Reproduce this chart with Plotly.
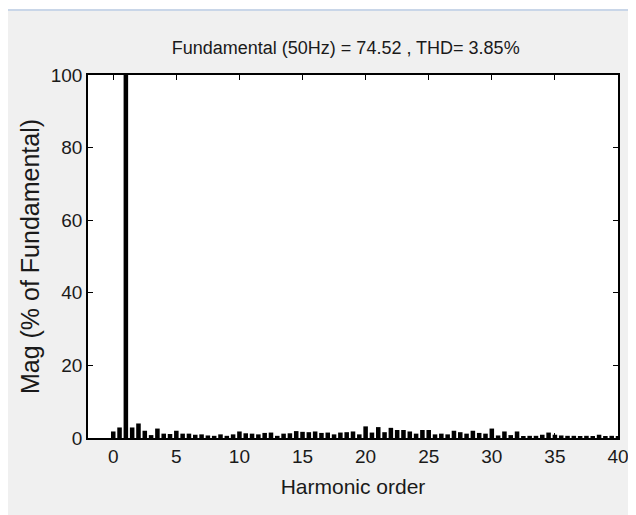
import plotly.graph_objects as go

harmonic_order = [0, 0.5, 1, 1.5, 2, 2.5, 3, 3.5, 4, 4.5, 5, 5.5, 6, 6.5, 7, 7.5, 8, 8.5, 9, 9.5,
                  10, 10.5, 11, 11.5, 12, 12.5, 13, 13.5, 14, 14.5, 15, 15.5, 16, 16.5, 17, 17.5, 18, 18.5, 19, 19.5,
                  20, 20.5, 21, 21.5, 22, 22.5, 23, 23.5, 24, 24.5, 25, 25.5, 26, 26.5, 27, 27.5, 28, 28.5, 29, 29.5,
                  30, 30.5, 31, 31.5, 32, 32.5, 33, 33.5, 34, 34.5, 35, 35.5, 36, 36.5, 37, 37.5, 38, 38.5, 39, 39.5, 40]
mag_percent = [1.8, 2.9, 100, 2.9, 4.0, 2.0, 0.8, 2.6, 1.2, 1.1, 2.0, 1.2, 1.2, 0.9, 1.0, 0.7, 0.6, 1.0, 0.6, 1.0,
               1.8, 1.3, 1.2, 1.0, 1.4, 1.5, 0.6, 1.2, 1.3, 1.9, 1.7, 1.6, 1.8, 1.4, 1.5, 1.0, 1.5, 1.6, 1.8, 1.0,
               3.2, 1.5, 3.0, 1.6, 2.8, 2.2, 2.2, 1.8, 1.2, 2.2, 2.2, 1.0, 1.2, 1.0, 2.0, 1.6, 1.2, 2.0, 1.4, 1.2,
               2.6, 0.7, 1.8, 0.8, 1.8, 0.5, 0.6, 0.6, 0.9, 1.5, 0.9, 0.7, 0.6, 0.6, 0.5, 0.6, 0.5, 0.9, 0.5, 0.6, 0.5]
x_ticks = [0, 5, 10, 15, 20, 25, 30, 35, 40]
y_ticks = [0, 20, 40, 60, 80, 100]
title_text = "Fundamental (50Hz) = 74.52 , THD= 3.85%"

FONT = "Liberation Sans, Arial, sans-serif"
TXT = "#1a1a1a"

fig = go.Figure(go.Bar(x=harmonic_order, y=mag_percent, width=0.36,
                       marker=dict(color="black", line=dict(width=0))))

PLOT_H = 515 - 67 - 85

fig.update_layout(
    width=636, height=515,
    margin=dict(l=80, r=26, t=67, b=85),
    paper_bgcolor="#f0f0f0", plot_bgcolor="white",
    showlegend=False,
    title=dict(text=title_text, x=0.531, xanchor="center", y=1 - 40 / 515, yanchor="middle",
               font=dict(family=FONT, size=18, color=TXT)),
    xaxis=dict(range=[-2, 40], tickvals=x_ticks, ticks="inside", ticklen=5, tickcolor="black",
               showline=True, linecolor="black", linewidth=1.5, mirror="ticks", showgrid=False, zeroline=False,
               tickfont=dict(family=FONT, size=19, color=TXT),
               title=dict(text="Harmonic order", font=dict(family=FONT, size=21, color=TXT), standoff=14)),
    yaxis=dict(range=[0, 100], tickvals=y_ticks, ticks="inside", ticklen=5, tickcolor="black",
               showline=True, linecolor="black", linewidth=1.5, mirror="ticks", showgrid=False, zeroline=False,
               tickfont=dict(family=FONT, size=19, color=TXT),
               title=dict(text="Mag (% of Fundamental)", font=dict(family=FONT, size=25, color=TXT), standoff=4)),
    shapes=[
        dict(type="rect", xref="paper", yref="paper", x0=-0.3, x1=1.2, y0=1 + 65 / PLOT_H, y1=1.4,
             fillcolor="white", line=dict(width=0), layer="below"),
        dict(type="line", xref="paper", yref="paper", x0=-0.3, x1=1.2, y0=1 + 65 / PLOT_H, y1=1 + 65 / PLOT_H,
             line=dict(color="#c9d6e8", width=2)),
    ],
)

fig.write_html("out.html")
